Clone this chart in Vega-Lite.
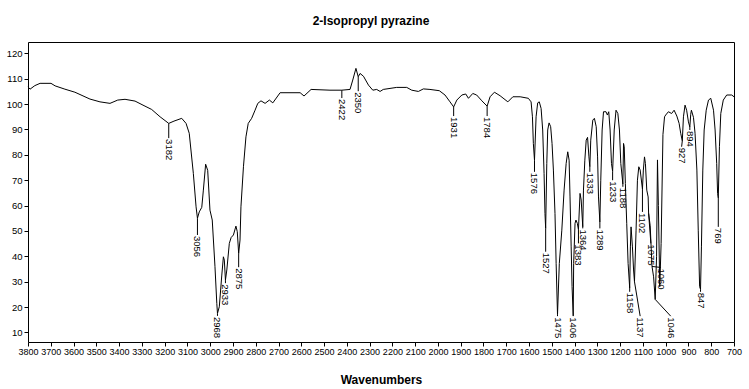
{
  "$schema": "https://vega.github.io/schema/vega-lite/v6.json",
  "width": 706,
  "height": 300,
  "autosize": "none",
  "padding": {"left": 28, "top": 42, "right": 15, "bottom": 47},
  "background": "white",
  "title": {"text": "2-Isopropyl pyrazine", "fontSize": 12, "fontWeight": "bold", "font": "Liberation Sans", "color": "black", "offset": 14, "anchor": "middle", "dx": -10},
  "config": {
    "view": {"stroke": "black", "strokeWidth": 1},
    "axis": {"labelFont": "Liberation Sans", "labelFontSize": 9.5, "labelColor": "black", "tickColor": "black", "domainColor": "black", "grid": false, "labelOverlap": false, "labelFlush": false, "labelBound": false, "labelSeparation": 0, "titleFont": "Liberation Sans", "titleColor": "black"}
  },
  "datasets": {
    "spec": [
      {"w":3800,"t":106.8},{"w":3791,"t":105.9},{"w":3770,"t":107.3},{"w":3747,"t":108.2},{"w":3699,"t":108.2},{"w":3681,"t":107.2},{"w":3638,"t":105.9},{"w":3594,"t":104.7},{"w":3528,"t":102.0},{"w":3484,"t":100.9},{"w":3440,"t":100.3},{"w":3406,"t":101.6},{"w":3374,"t":101.9},{"w":3330,"t":101.2},{"w":3295,"t":99.6},{"w":3257,"t":97.9},{"w":3220,"t":95.0},{"w":3182,"t":92.4},{"w":3159,"t":93.3},{"w":3125,"t":94.4},{"w":3106,"t":92.4},{"w":3092,"t":88.5},{"w":3074,"t":72.7},{"w":3062,"t":59.5},{"w":3056,"t":55.0},{"w":3048,"t":57.5},{"w":3037,"t":59.3},{"w":3030,"t":66.1},{"w":3020,"t":76.3},{"w":3011,"t":73.9},{"w":3001,"t":58.2},{"w":2991,"t":54.3},{"w":2979,"t":35.9},{"w":2971,"t":21.4},{"w":2968,"t":17.5},{"w":2960,"t":20.1},{"w":2949,"t":32.6},{"w":2942,"t":39.8},{"w":2938,"t":38.5},{"w":2933,"t":30.6},{"w":2927,"t":34.6},{"w":2916,"t":45.1},{"w":2908,"t":47.4},{"w":2898,"t":48.4},{"w":2887,"t":51.9},{"w":2881,"t":49.7},{"w":2875,"t":41.1},{"w":2869,"t":46.4},{"w":2865,"t":59.5},{"w":2854,"t":75.3},{"w":2843,"t":87.1},{"w":2833,"t":92.4},{"w":2818,"t":94.4},{"w":2803,"t":97.6},{"w":2791,"t":100.3},{"w":2777,"t":101.3},{"w":2759,"t":100.3},{"w":2740,"t":101.6},{"w":2725,"t":100.5},{"w":2693,"t":104.5},{"w":2605,"t":104.5},{"w":2588,"t":103.2},{"w":2557,"t":105.8},{"w":2474,"t":105.5},{"w":2422,"t":105.5},{"w":2386,"t":105.8},{"w":2374,"t":109.5},{"w":2360,"t":114.1},{"w":2350,"t":110.8},{"w":2342,"t":112.1},{"w":2327,"t":111.0},{"w":2305,"t":107.5},{"w":2286,"t":105.5},{"w":2269,"t":105.8},{"w":2254,"t":105.0},{"w":2240,"t":105.8},{"w":2181,"t":106.6},{"w":2137,"t":106.6},{"w":2115,"t":105.5},{"w":2086,"t":105.0},{"w":2064,"t":106.0},{"w":2035,"t":105.8},{"w":1994,"t":105.3},{"w":1969,"t":103.6},{"w":1947,"t":100.9},{"w":1931,"t":98.9},{"w":1917,"t":101.6},{"w":1895,"t":103.6},{"w":1878,"t":104.0},{"w":1866,"t":102.3},{"w":1847,"t":104.2},{"w":1830,"t":103.6},{"w":1807,"t":101.3},{"w":1784,"t":99.2},{"w":1771,"t":102.9},{"w":1752,"t":104.7},{"w":1727,"t":103.3},{"w":1693,"t":100.9},{"w":1671,"t":102.9},{"w":1639,"t":102.9},{"w":1603,"t":102.3},{"w":1591,"t":100.9},{"w":1585,"t":95.0},{"w":1581,"t":84.5},{"w":1576,"t":77.9},{"w":1569,"t":95.0},{"w":1562,"t":100.5},{"w":1555,"t":100.9},{"w":1547,"t":98.3},{"w":1540,"t":89.8},{"w":1534,"t":72.7},{"w":1530,"t":56.9},{"w":1527,"t":51.0},{"w":1522,"t":76.6},{"w":1518,"t":89.8},{"w":1512,"t":92.6},{"w":1505,"t":91.1},{"w":1499,"t":84.5},{"w":1493,"t":74.0},{"w":1486,"t":56.9},{"w":1481,"t":37.2},{"w":1475,"t":17.0},{"w":1467,"t":37.2},{"w":1456,"t":50.3},{"w":1446,"t":66.1},{"w":1437,"t":76.6},{"w":1430,"t":81.2},{"w":1424,"t":77.9},{"w":1420,"t":63.4},{"w":1415,"t":43.7},{"w":1411,"t":28.0},{"w":1406,"t":16.5},{"w":1404,"t":37.2},{"w":1398,"t":53.0},{"w":1394,"t":54.3},{"w":1388,"t":53.0},{"w":1383,"t":50.5},{"w":1376,"t":64.8},{"w":1371,"t":62.2},{"w":1364,"t":51.6},{"w":1361,"t":66.1},{"w":1355,"t":77.9},{"w":1349,"t":85.8},{"w":1343,"t":86.9},{"w":1337,"t":79.2},{"w":1333,"t":75.3},{"w":1329,"t":85.8},{"w":1320,"t":93.7},{"w":1313,"t":94.4},{"w":1305,"t":91.1},{"w":1299,"t":79.2},{"w":1295,"t":63.4},{"w":1289,"t":53.5},{"w":1285,"t":70.0},{"w":1279,"t":89.8},{"w":1273,"t":97.0},{"w":1262,"t":97.0},{"w":1256,"t":95.7},{"w":1250,"t":97.0},{"w":1244,"t":89.8},{"w":1238,"t":76.6},{"w":1233,"t":73.5},{"w":1226,"t":89.8},{"w":1218,"t":97.6},{"w":1210,"t":96.3},{"w":1203,"t":89.8},{"w":1197,"t":76.6},{"w":1188,"t":68.5},{"w":1185,"t":84.5},{"w":1182,"t":83.2},{"w":1177,"t":68.7},{"w":1171,"t":53.0},{"w":1165,"t":37.2},{"w":1158,"t":27.5},{"w":1155,"t":43.7},{"w":1152,"t":51.6},{"w":1146,"t":43.7},{"w":1141,"t":34.6},{"w":1137,"t":30.0},{"w":1130,"t":50.3},{"w":1124,"t":70.0},{"w":1118,"t":75.3},{"w":1112,"t":74.0},{"w":1102,"t":66.5},{"w":1098,"t":74.0},{"w":1093,"t":79.2},{"w":1089,"t":76.6},{"w":1083,"t":66.1},{"w":1077,"t":63.4},{"w":1075,"t":57.0},{"w":1068,"t":52.0},{"w":1060,"t":36.0},{"w":1053,"t":31.9},{"w":1046,"t":23.0},{"w":1040,"t":40.0},{"w":1036,"t":78.0},{"w":1032,"t":60.0},{"w":1026,"t":28.0},{"w":1020,"t":45.0},{"w":1012,"t":88.0},{"w":1005,"t":95.0},{"w":1000,"t":95.7},{"w":988,"t":97.0},{"w":974,"t":96.3},{"w":963,"t":97.6},{"w":951,"t":95.3},{"w":941,"t":92.4},{"w":934,"t":88.5},{"w":927,"t":85.5},{"w":922,"t":95.0},{"w":915,"t":99.6},{"w":908,"t":97.6},{"w":900,"t":93.0},{"w":894,"t":91.0},{"w":890,"t":96.0},{"w":887,"t":97.6},{"w":878,"t":94.8},{"w":871,"t":88.5},{"w":863,"t":74.0},{"w":857,"t":50.3},{"w":851,"t":28.0},{"w":847,"t":27.0},{"w":843,"t":43.7},{"w":837,"t":74.0},{"w":831,"t":89.8},{"w":822,"t":97.6},{"w":812,"t":101.6},{"w":802,"t":102.3},{"w":790,"t":97.6},{"w":783,"t":89.8},{"w":776,"t":76.6},{"w":772,"t":64.8},{"w":769,"t":63.0},{"w":764,"t":83.2},{"w":758,"t":96.3},{"w":747,"t":101.6},{"w":732,"t":103.6},{"w":710,"t":103.6},{"w":700,"t":102.9}
    ],
    "peaks": [
      {"label":"3182","w":3182,"t":92.4,"lx":3182,"ly":86.6},
      {"label":"3056","w":3056,"t":55.0,"lx":3056,"ly":48.4},
      {"label":"2968","w":2968,"t":17.5,"lx":2968,"ly":16.5},
      {"label":"2933","w":2933,"t":30.6,"lx":2933,"ly":29.4},
      {"label":"2875","w":2875,"t":41.1,"lx":2875,"ly":35.7},
      {"label":"2422","w":2422,"t":105.5,"lx":2422,"ly":102.4},
      {"label":"2350","w":2350,"t":110.8,"lx":2350,"ly":105.1},
      {"label":"1931","w":1931,"t":98.9,"lx":1931,"ly":95.3},
      {"label":"1784","w":1784,"t":99.2,"lx":1784,"ly":95.3},
      {"label":"1576","w":1576,"t":77.9,"lx":1576,"ly":73.3},
      {"label":"1527","w":1527,"t":51.0,"lx":1527,"ly":41.8},
      {"label":"1475","w":1475,"t":17.0,"lx":1475,"ly":16.4},
      {"label":"1406","w":1406,"t":16.5,"lx":1406,"ly":16.4},
      {"label":"1383","w":1383,"t":50.5,"lx":1383,"ly":45.1},
      {"label":"1364","w":1364,"t":51.6,"lx":1364,"ly":51.0},
      {"label":"1333","w":1333,"t":75.3,"lx":1333,"ly":73.3},
      {"label":"1289","w":1289,"t":53.5,"lx":1289,"ly":51.0},
      {"label":"1233","w":1233,"t":73.5,"lx":1233,"ly":70.0},
      {"label":"1188","w":1188,"t":68.5,"lx":1188,"ly":67.4},
      {"label":"1158","w":1158,"t":27.5,"lx":1158,"ly":26.0},
      {"label":"1137","w":1137,"t":30.0,"lx":1112,"ly":16.4},
      {"label":"1102","w":1102,"t":66.5,"lx":1102,"ly":57.5},
      {"label":"1075","w":1075,"t":57.0,"lx":1065,"ly":45.1},
      {"label":"1060","w":1060,"t":36.0,"lx":1022,"ly":35.6},
      {"label":"1046","w":1046,"t":23.0,"lx":978,"ly":16.4},
      {"label":"927","w":927,"t":85.5,"lx":930,"ly":83.2},
      {"label":"894","w":894,"t":91.0,"lx":894,"ly":89.8},
      {"label":"847","w":847,"t":27.0,"lx":847,"ly":26.0},
      {"label":"769","w":769,"t":63.0,"lx":769,"ly":51.6}
    ]
  },
  "layer": [
    {
      "data": {"name": "spec"},
      "mark": {"type": "line", "color": "black", "strokeWidth": 1, "interpolate": "linear"},
      "encoding": {
        "x": {"field": "w", "type": "quantitative", "scale": {"domain": [700, 3800], "reverse": true, "nice": false}, "axis": {"values": [3800,3700,3600,3500,3400,3300,3200,3100,3000,2900,2800,2700,2600,2500,2400,2300,2200,2100,2000,1900,1800,1700,1600,1500,1400,1300,1200,1100,1000,900,800,700], "format": "d", "labelOverlap": false, "labelFlush": false, "labelSeparation": 0, "labelFontSize": 9, "title": "Wavenumbers", "titleFontSize": 12, "titleFontWeight": "bold", "titlePadding": 18, "tickSize": 4, "labelPadding": 1, "domain": false}},
        "y": {"field": "t", "type": "quantitative", "scale": {"domain": [6.2, 124.5], "nice": false, "zero": false}, "axis": {"values": [10,20,30,40,50,60,70,80,90,100,110,120], "format": "d", "labelOverlap": false, "labelFlush": false, "labelSeparation": 0, "title": null, "tickSize": 4, "labelPadding": 2, "domain": false}}
      }
    },
    {
      "data": {"name": "peaks"},
      "mark": {"type": "rule", "color": "black", "strokeWidth": 1},
      "encoding": {
        "x": {"field": "w", "type": "quantitative", "scale": {"domain": [700, 3800], "reverse": true, "nice": false}, "axis": {"values": [3800,3700,3600,3500,3400,3300,3200,3100,3000,2900,2800,2700,2600,2500,2400,2300,2200,2100,2000,1900,1800,1700,1600,1500,1400,1300,1200,1100,1000,900,800,700], "format": "d", "labelOverlap": false, "labelFlush": false, "labelSeparation": 0, "labelFontSize": 9, "title": "Wavenumbers", "titleFontSize": 12, "titleFontWeight": "bold", "titlePadding": 18, "tickSize": 4, "labelPadding": 1, "domain": false}},
        "y": {"field": "t", "type": "quantitative", "scale": {"domain": [6.2, 124.5], "nice": false, "zero": false}, "axis": {"values": [10,20,30,40,50,60,70,80,90,100,110,120], "format": "d", "labelOverlap": false, "labelFlush": false, "labelSeparation": 0, "title": null, "tickSize": 4, "labelPadding": 2, "domain": false}},
        "x2": {"field": "lx"},
        "y2": {"field": "ly"}
      }
    },
    {
      "data": {"name": "peaks"},
      "mark": {"type": "text", "angle": 90, "align": "left", "baseline": "middle", "font": "Liberation Sans", "fontSize": 9.5, "color": "black", "dx": 1},
      "encoding": {
        "x": {"field": "lx", "type": "quantitative", "scale": {"domain": [700, 3800], "reverse": true, "nice": false}, "axis": {"values": [3800,3700,3600,3500,3400,3300,3200,3100,3000,2900,2800,2700,2600,2500,2400,2300,2200,2100,2000,1900,1800,1700,1600,1500,1400,1300,1200,1100,1000,900,800,700], "format": "d", "labelOverlap": false, "labelFlush": false, "labelSeparation": 0, "labelFontSize": 9, "title": "Wavenumbers", "titleFontSize": 12, "titleFontWeight": "bold", "titlePadding": 18, "tickSize": 4, "labelPadding": 1, "domain": false}},
        "y": {"field": "ly", "type": "quantitative", "scale": {"domain": [6.2, 124.5], "nice": false, "zero": false}, "axis": {"values": [10,20,30,40,50,60,70,80,90,100,110,120], "format": "d", "labelOverlap": false, "labelFlush": false, "labelSeparation": 0, "title": null, "tickSize": 4, "labelPadding": 2, "domain": false}},
        "text": {"field": "label"}
      }
    }
  ]
}
